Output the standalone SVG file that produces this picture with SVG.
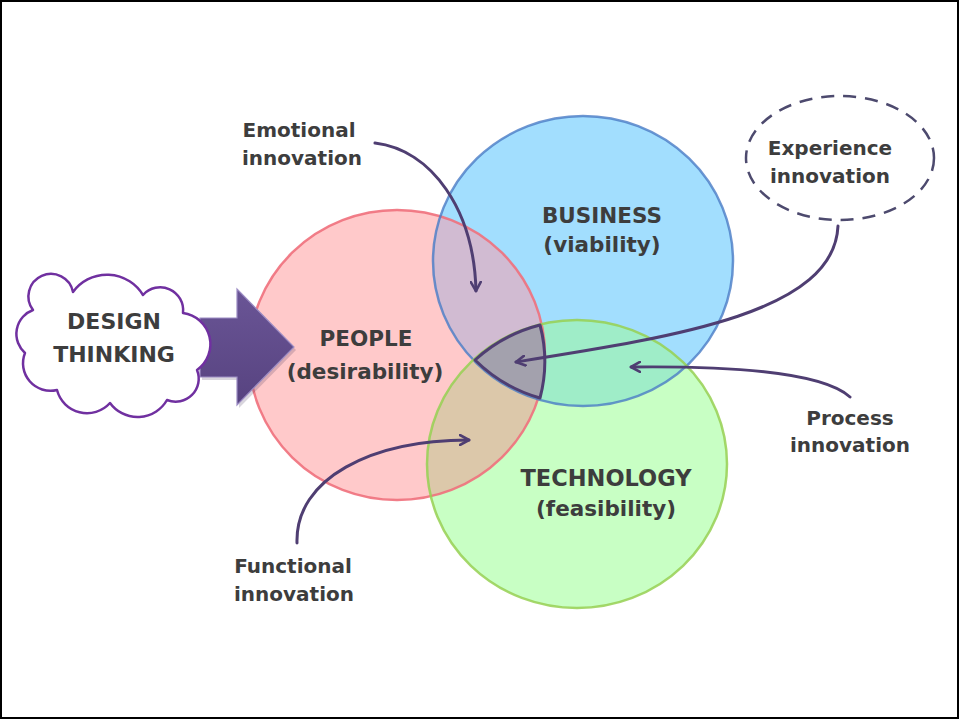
<svg xmlns="http://www.w3.org/2000/svg" width="960" height="720" viewBox="0 0 960 720">
<style>
.t{font-family:"DejaVu Sans","Liberation Sans",sans-serif;font-weight:bold;fill:#3d3d3d;text-anchor:middle}
.lbl{font-size:20px}
.big{font-size:21.5px}
.conn{fill:none;stroke:#4f3e72;stroke-width:3;stroke-linecap:round;marker-end:url(#ah)}
</style>
<defs>
<marker id="ah" viewBox="0 0 12 12" refX="10" refY="6" markerWidth="12" markerHeight="12" markerUnits="userSpaceOnUse" orient="auto">
<path d="M1,1 L10,6 L1,11" fill="none" stroke="#4f3e72" stroke-width="2.6" stroke-linecap="round" stroke-linejoin="round"/>
</marker>
<clipPath id="cpPink"><ellipse cx="397" cy="355" rx="148" ry="145"/></clipPath>
<clipPath id="cpBlue"><ellipse cx="583" cy="261" rx="150" ry="145"/></clipPath>
<linearGradient id="arrowGrad" x1="0" y1="0" x2="0" y2="1">
<stop offset="0" stop-color="#6a5596"/>
<stop offset="1" stop-color="#574380"/>
</linearGradient>
</defs>
<rect x="0" y="0" width="960" height="720" fill="#ffffff"/>
<rect x="1" y="1" width="957" height="717" fill="none" stroke="#000000" stroke-width="2"/>

<g id="venn">
<ellipse cx="397" cy="355" rx="148" ry="145" fill="#ffc9ca"/>
<ellipse cx="583" cy="261" rx="150" ry="145" fill="#a2defe"/>
<ellipse cx="577" cy="464" rx="150" ry="144" fill="#c8ffc4"/>
<ellipse cx="583" cy="261" rx="150" ry="145" fill="#d1bbd2" clip-path="url(#cpPink)"/>
<ellipse cx="577" cy="464" rx="150" ry="144" fill="#dcc8aa" clip-path="url(#cpPink)"/>
<ellipse cx="577" cy="464" rx="150" ry="144" fill="#9fedc8" clip-path="url(#cpBlue)"/>
<ellipse cx="397" cy="355" rx="148" ry="145" fill="none" stroke="#f0707c" stroke-width="2.5" stroke-opacity="0.9"/>
<ellipse cx="583" cy="261" rx="150" ry="145" fill="none" stroke="#4a7cc6" stroke-width="2.5" stroke-opacity="0.8"/>
<ellipse cx="577" cy="464" rx="150" ry="144" fill="none" stroke="#96d052" stroke-width="2.5" stroke-opacity="0.85"/>
</g>

<g id="core">
<path d="M 475 360 A 150 144 0 0 1 540 325 A 148 145 0 0 1 540 398 A 150 145 0 0 1 475 360 Z" fill="#a3a1ad" stroke="#4f3e72" stroke-width="3" stroke-linejoin="round"/>
</g>

<g id="people"><text class="t big" x="366" y="346">PEOPLE</text><text class="t big" x="365" y="379">(desirability)</text></g>
<g id="business"><text class="t big" x="602" y="223">BUSINESS</text><text class="t big" x="602" y="252">(viability)</text></g>
<g id="technology"><text class="t big" x="606" y="486" style="font-size:22.5px">TECHNOLOGY</text><text class="t big" x="606" y="516">(feasibility)</text></g>

<g id="design-arrow">
<path d="M 200 318 L 237 318 L 237 289 L 294 347 L 237 405 L 237 377 L 200 377 Z" fill="#3a2d55" opacity="0.2" transform="translate(2,3)"/>
<path d="M 200 318 L 237 318 L 237 289 L 294 347 L 237 405 L 237 377 L 200 377 Z" fill="url(#arrowGrad)" stroke="#9c8cc4" stroke-width="1.2" stroke-linejoin="miter"/>
</g>

<g id="design-thinking">
<path d="M 33 310 A 22.5 22.5 0 1 1 73 292 A 42 42 0 0 1 143 295 A 23 23 0 0 1 183 313 A 31.5 31.5 0 0 1 197 370 A 23 23 0 0 1 167 400 A 34 34 0 0 1 110 403 A 31 31 0 0 1 57 390 A 27.5 27.5 0 0 1 25 353 A 25.5 25.5 0 0 1 33 310 Z" fill="#ffffff" stroke="#7030a0" stroke-width="2.5" stroke-linejoin="round"/>
<text class="t" x="114" y="329" style="font-size:22px">DESIGN</text>
<text class="t" x="114" y="362" style="font-size:22px">THINKING</text>
</g>

<g id="experience">
<ellipse cx="840" cy="158" rx="94" ry="62" fill="#ffffff" stroke="#4d4a6e" stroke-width="2.5" stroke-dasharray="13 9"/>
<text class="t lbl" x="830" y="155">Experience</text>
<text class="t lbl" x="830" y="183">innovation</text>
</g>

<g id="emotional"><text class="t lbl" x="299" y="137">Emotional</text><text class="t lbl" x="302" y="165">innovation</text></g>
<g id="process"><text class="t lbl" x="850" y="425">Process</text><text class="t lbl" x="850" y="452">innovation</text></g>
<g id="functional"><text class="t lbl" x="293" y="573">Functional</text><text class="t lbl" x="294" y="601">innovation</text></g>

<g id="connectors">
<path class="conn" d="M 375 143 C 432 150, 474 210, 476 291"/>
<path class="conn" d="M 838 226 C 834 312, 680 336, 516 362"/>
<path class="conn" d="M 850 397 C 820 370, 720 366, 631 367"/>
<path class="conn" d="M 297 543 C 295 478, 372 440, 469 440"/>
</g>
</svg>
